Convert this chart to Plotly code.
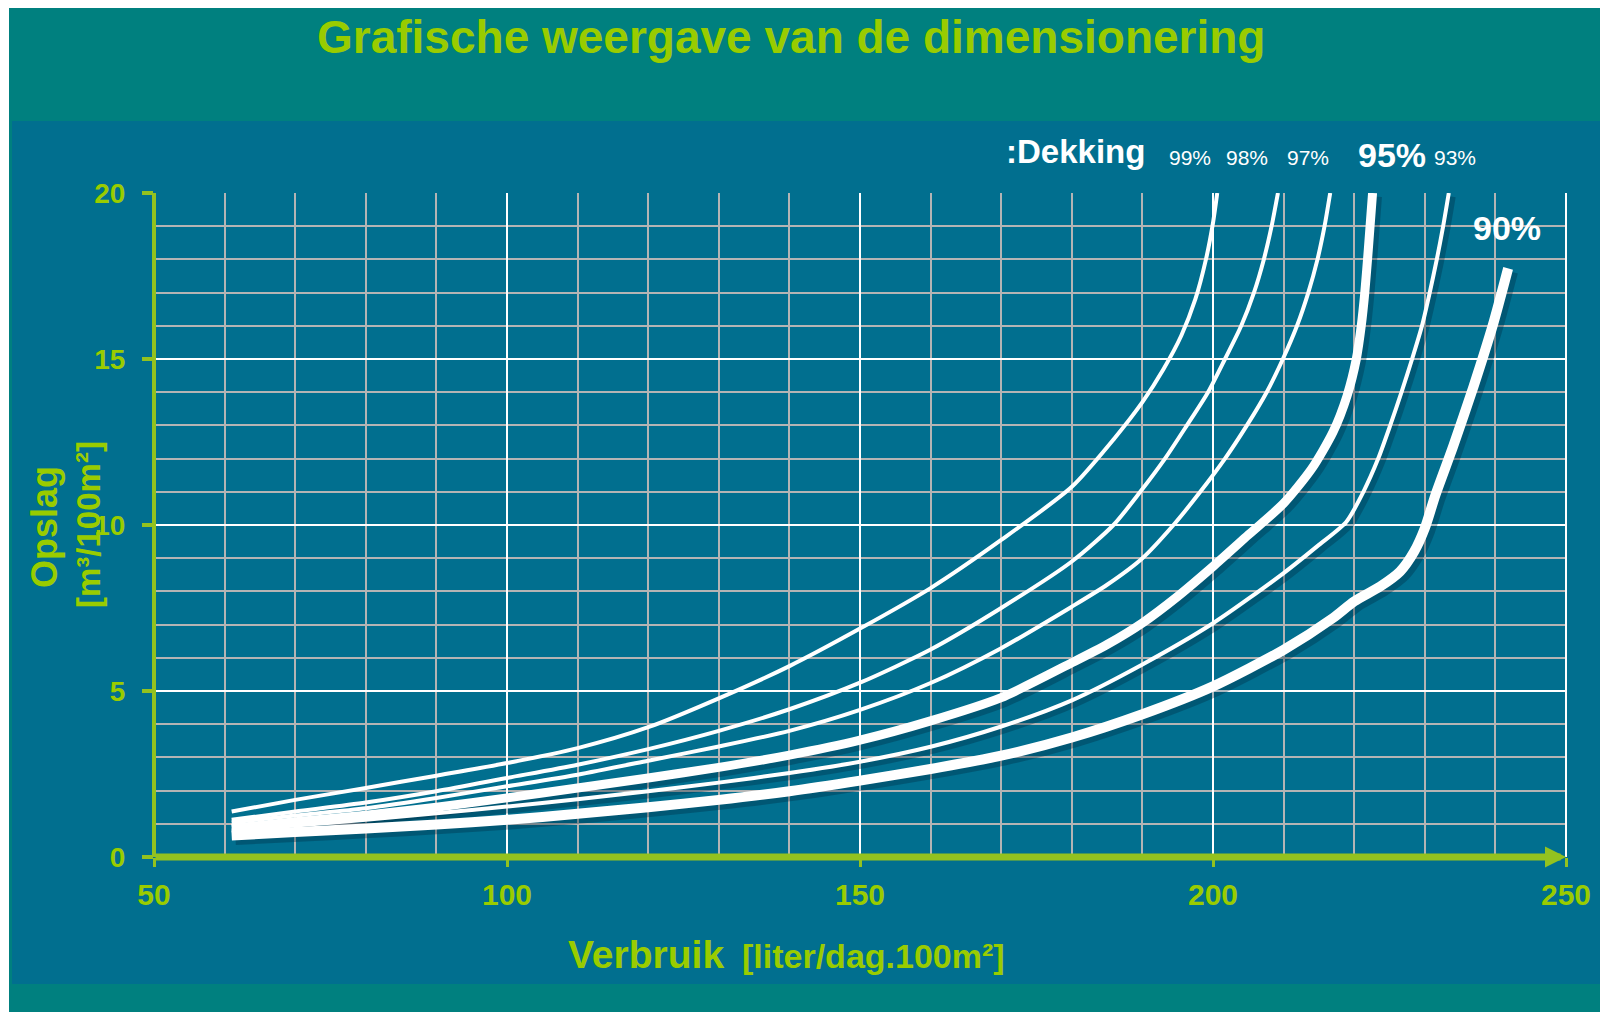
import plotly.graph_objects as go

# ---------------- data ----------------
x_tick_vals = [50, 100, 150, 200, 250]
y_tick_vals = [0, 5, 10, 15, 20]

series_names = ["99%", "98%", "97%", "95%", "93%", "90%"]

x_99 = [61, 70, 80, 90, 100, 110, 120, 130, 140, 150, 160, 170, 180, 186, 190, 193, 195.5, 197.5, 199, 200, 200.6]
y_99 = [1.37, 1.72, 2.08, 2.45, 2.83, 3.28, 3.91, 4.78, 5.75, 6.88, 8.1, 9.55, 11.15, 12.6, 13.7, 14.7, 15.7, 16.8, 18, 19.1, 20]

x_98 = [61, 70, 80, 90, 100, 110, 120, 130, 140, 150, 160, 170, 180, 185.9, 189.7, 193.2, 196.3, 199.3, 201.7, 204, 205.8, 207.2, 208.3, 209.2]
y_98 = [1.12, 1.37, 1.64, 1.98, 2.38, 2.78, 3.25, 3.8, 4.45, 5.25, 6.25, 7.5, 8.9, 10, 11, 12, 13, 14, 15, 16, 17, 18, 19, 20]

x_97 = [61, 70, 80, 90, 100, 110, 120, 130, 140, 150, 160, 170, 180, 185, 190, 194.4, 198.2, 201.7, 204.8, 207.6, 209.9, 211.9, 213.5, 214.8, 215.8, 216.6]
y_97 = [1.04, 1.25, 1.47, 1.78, 2.13, 2.48, 2.9, 3.33, 3.8, 4.43, 5.24, 6.29, 7.54, 8.2, 9, 10, 11, 12, 13, 14, 15, 16, 17, 18, 19, 20]

x_95 = [61, 70, 80, 90, 100, 110, 120, 130, 140, 150, 160, 170, 180, 185, 190, 195, 200, 205, 210, 214, 217, 219, 220.3, 221, 221.5, 222, 222.6]
y_95 = [0.87, 1.06, 1.26, 1.5, 1.78, 2.08, 2.38, 2.7, 3.07, 3.52, 4.1, 4.8, 5.85, 6.4, 7.05, 7.85, 8.75, 9.7, 10.65, 11.7, 12.8, 13.9, 15, 16, 17, 18.3, 20]

x_93 = [61, 70, 80, 90, 100, 110, 120, 130, 140, 150, 160, 170, 180, 190, 200, 210, 215, 218.9, 221.3, 223.4, 225.1, 226.7, 228.2, 229.6, 230.7, 231.7, 232.6, 233.4]
y_93 = [0.8, 0.95, 1.12, 1.32, 1.52, 1.74, 1.98, 2.24, 2.53, 2.87, 3.32, 3.93, 4.72, 5.8, 7.04, 8.55, 9.4, 10.1, 11, 12, 13, 14, 15, 16, 17, 18, 19, 20]

x_90 = [61, 70, 80, 90, 100, 110, 120, 130, 140, 150, 160, 170, 180, 190, 200, 210, 217, 220, 223.7, 226.5, 228.5, 230, 231.5, 234, 236.9, 239.7, 241.8]
y_90 = [0.65, 0.75, 0.86, 0.98, 1.12, 1.3, 1.5, 1.72, 1.98, 2.3, 2.65, 3.05, 3.6, 4.3, 5.14, 6.24, 7.2, 7.7, 8.15, 8.6, 9.2, 9.9, 10.9, 12.36, 14.17, 16.07, 17.73]

# ---------------- style ----------------
# The page body has an 8px margin, so the figure sits at page (8, 8).
OFF = 8
W, H = 1608 - OFF, 1012 - OFF
L, R, T, B = 146, 42, 185, 155
PW, PH = W - L - R, H - T - B

BLUE = "#016F8F"
TEAL = "#00807F"
GREEN_TXT = "#99CC00"
GREEN_LINE = "#93C21F"
GRID_MINOR = "#B4B4B4"
FONT = "Liberation Sans, Arial, sans-serif"


def xp(px):
    """page pixel x -> paper x"""
    return (px - OFF - L) / PW


def yp(py):
    """page pixel y -> paper y"""
    return (H - B - (py - OFF)) / PH


series = [
    (x_99, y_99, 4, False),
    (x_98, y_98, 4, False),
    (x_97, y_97, 4, False),
    (x_95, y_95, 9, True),
    (x_93, y_93, 4, True),
    (x_90, y_90, 10, True),
]

fig = go.Figure()

for xs, ys, w, shadow in series:
    if shadow:
        fig.add_trace(go.Scatter(
            x=[v + 0.55 for v in xs], y=[v - 0.11 for v in ys], mode="lines",
            line=dict(color="rgba(0,40,60,0.33)", width=w + 2, shape="spline", smoothing=0.7),
            hoverinfo="skip", showlegend=False))

for (xs, ys, w, shadow), name in zip(series, series_names):
    fig.add_trace(go.Scatter(
        x=xs, y=ys, mode="lines", name=name,
        line=dict(color="white", width=w, shape="spline", smoothing=0.7),
        showlegend=False))

shapes = [
    dict(type="rect", xref="paper", yref="paper", x0=xp(9), x1=xp(1620), y0=yp(1020), y1=yp(5),
         fillcolor=TEAL, line=dict(width=0), layer="below"),
    dict(type="rect", xref="paper", yref="paper", x0=xp(12), x1=xp(1605), y0=yp(984), y1=yp(121),
         fillcolor=BLUE, line=dict(width=0), layer="below"),
    dict(type="line", xref="paper", yref="paper", x0=1, x1=1, y0=0, y1=1,
         line=dict(color="white", width=2), layer="above"),
    dict(type="line", xref="paper", yref="paper", x0=0, x1=0, y0=0, y1=1,
         line=dict(color=GREEN_LINE, width=4), layer="above"),
]

annotations = [
    dict(x=250, y=0, ax=50, ay=0, xref="x", yref="y", axref="x", ayref="y", text="",
         showarrow=True, arrowhead=2, arrowsize=0.6, arrowwidth=7, arrowcolor=GREEN_LINE, standoff=0),
    dict(x=xp(790.5), y=yp(37), xref="paper", yref="paper", showarrow=False,
         text="<b>Grafische weergave van de dimensionering</b>",
         font=dict(size=46, color=GREEN_TXT, family=FONT), xanchor="center", yanchor="middle"),
    dict(x=xp(44), y=yp(527), xref="paper", yref="paper", showarrow=False, textangle=-90,
         text="<b>Opslag</b>", font=dict(size=36, color=GREEN_TXT, family=FONT),
         xanchor="center", yanchor="middle"),
    dict(x=xp(88), y=yp(525), xref="paper", yref="paper", showarrow=False, textangle=-90,
         text="<b>[m³/100m²]</b>", font=dict(size=33, color=GREEN_TXT, family=FONT),
         xanchor="center", yanchor="middle"),
    dict(x=xp(566), y=yp(954), xref="paper", yref="paper", showarrow=False,
         text="<b>Verbruik</b>", font=dict(size=39, color=GREEN_TXT, family=FONT),
         xanchor="left", yanchor="middle"),
    dict(x=xp(740), y=yp(956), xref="paper", yref="paper", showarrow=False,
         text="<b>[liter/dag.100m²]</b>", font=dict(size=34, color=GREEN_TXT, family=FONT),
         xanchor="left", yanchor="middle"),
    dict(x=xp(1075), y=yp(151), xref="paper", yref="paper", showarrow=False, text="<b>:Dekking</b>",
         font=dict(size=33, color="white", family=FONT), xanchor="center", yanchor="middle"),
]

label_pos = {
    "99%": (1190, 157, 21, False),
    "98%": (1246.6, 157, 21, False),
    "97%": (1307.5, 157, 21, False),
    "95%": (1391.6, 155, 34, True),
    "93%": (1455, 157, 21, False),
    "90%": (1507, 228, 34, True),
}
for name in series_names:
    px, py, sz, bold = label_pos[name]
    annotations.append(dict(x=xp(px), y=yp(py), xref="paper", yref="paper", showarrow=False,
                            text=f"<b>{name}</b>" if bold else name,
                            font=dict(size=sz, color="white", family=FONT),
                            xanchor="center", yanchor="middle"))

fig.update_layout(
    width=W, height=H,
    margin=dict(l=L, r=R, t=T, b=B, pad=0),
    paper_bgcolor="white",
    plot_bgcolor=BLUE,
    font=dict(family=FONT),
    shapes=shapes,
    annotations=annotations,
    showlegend=False,
    xaxis=dict(
        range=[50, 250], tickvals=x_tick_vals, ticktext=[str(v) for v in x_tick_vals],
        showline=False, zeroline=False,
        showgrid=True, gridcolor="white", gridwidth=2,
        minor=dict(dtick=10, tick0=50, showgrid=True, gridcolor=GRID_MINOR, gridwidth=2),
        ticks="outside", ticklen=9, tickwidth=3, tickcolor=GREEN_LINE,
        tickfont=dict(size=30, color=GREEN_TXT, family=FONT, weight="bold"),
        ticklabelstandoff=2, fixedrange=True,
    ),
    yaxis=dict(
        range=[0, 20], tickvals=y_tick_vals, ticktext=[str(v) for v in y_tick_vals],
        showline=False, zeroline=False,
        showgrid=True, gridcolor="white", gridwidth=2,
        minor=dict(dtick=1, tick0=0, showgrid=True, gridcolor=GRID_MINOR, gridwidth=2),
        ticks="outside", ticklen=11, tickwidth=4, tickcolor=GREEN_LINE,
        tickfont=dict(size=28, color=GREEN_TXT, family=FONT, weight="bold"),
        ticklabelstandoff=11, fixedrange=True,
    ),
)

fig.write_html("out.html")
